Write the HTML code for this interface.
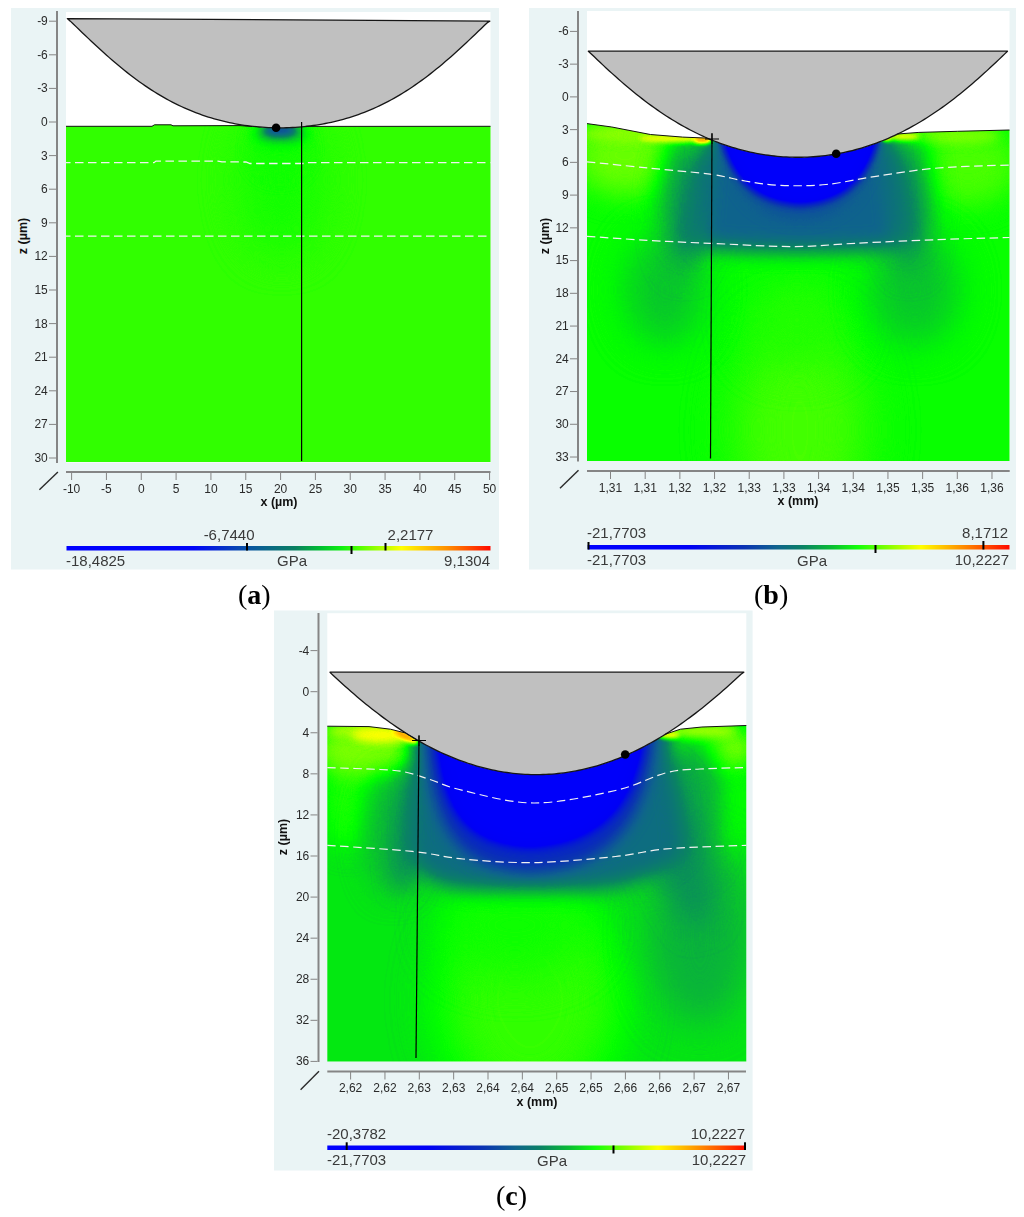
<!DOCTYPE html>
<html><head><meta charset="utf-8"><title>Figure</title>
<style>
html,body{margin:0;padding:0;background:#fff;width:1024px;height:1217px;overflow:hidden;font-family:"Liberation Sans",sans-serif;}
svg{display:block;}
</style></head><body>
<svg width="1024" height="1217" viewBox="0 0 1024 1217">
<defs><filter id="cmap" x="0" y="0" width="100%" height="100%" color-interpolation-filters="sRGB"><feComponentTransfer><feFuncR type="table" tableValues="0 0 0 0 0 0 0 0 0 0 0 0 0 0 0 0 0 0 0 0 0 0 0 0 0 0 0 0 0 0 0 0 0.002 0.004 0.007 0.009 0.012 0.014 0.017 0.019 0.022 0.024 0.027 0.029 0.032 0.034 0.036 0.039 0.041 0.043 0.044 0.046 0.048 0.05 0.052 0.054 0.055 0.057 0.058 0.056 0.054 0.051 0.049 0.046 0.044 0.041 0.039 0.039 0.039 0.039 0.039 0.039 0.039 0.039 0.038 0.033 0.027 0.021 0.015 0.009 0.004 0.017 0.063 0.109 0.155 0.201 0.247 0.293 0.34 0.386 0.432 0.478 0.527 0.579 0.631 0.683 0.734 0.786 0.838 0.89 0.942 0.994 1 1 1 1 1 1 1 1 1 1 1 1 1 1 1 1 1 1 1 1 1 1 1 1 1 1 1"/><feFuncG type="table" tableValues="0 0 0 0 0 0 0 0 0 0 0 0 0 0 0 0 0 0 0 0 0 0 0 0 0 0 0 0 0 0 0 0 0.009 0.022 0.034 0.047 0.059 0.071 0.084 0.096 0.108 0.121 0.133 0.145 0.158 0.17 0.182 0.195 0.212 0.231 0.249 0.267 0.285 0.304 0.322 0.34 0.358 0.377 0.394 0.409 0.424 0.439 0.454 0.468 0.483 0.498 0.516 0.545 0.574 0.603 0.633 0.662 0.691 0.72 0.751 0.788 0.826 0.863 0.901 0.938 0.976 1 1 1 1 1 1 1 1 1 1 1 1 1 1 1 1 1 1 1 1 1 0.967 0.93 0.893 0.856 0.819 0.782 0.745 0.708 0.671 0.634 0.597 0.56 0.523 0.487 0.452 0.418 0.384 0.349 0.315 0.28 0.246 0.211 0.177 0.143 0.108 0.074 0.039"/><feFuncB type="table" tableValues="1 0.999 0.997 0.996 0.995 0.994 0.992 0.991 0.99 0.989 0.987 0.986 0.985 0.984 0.982 0.981 0.98 0.979 0.977 0.976 0.975 0.974 0.972 0.971 0.97 0.969 0.967 0.966 0.965 0.964 0.962 0.961 0.948 0.932 0.916 0.9 0.884 0.868 0.852 0.836 0.82 0.804 0.788 0.772 0.756 0.74 0.724 0.708 0.693 0.678 0.664 0.649 0.634 0.62 0.605 0.591 0.576 0.562 0.546 0.526 0.507 0.487 0.467 0.447 0.428 0.408 0.387 0.363 0.338 0.314 0.29 0.266 0.241 0.217 0.192 0.163 0.134 0.105 0.076 0.047 0.018 0 0 0 0 0 0 0 0 0 0 0 0 0 0 0 0 0 0 0 0 0 0 0 0 0 0 0 0 0 0 0 0 0 0 0 0 0 0 0 0 0 0 0 0 0 0 0 0"/></feComponentTransfer></filter>
<clipPath id="clipA"><path d="M66,462.5 L66,126.3 L152,126.3 L154.5,124.8 L171,124.8 L173,125.8 L240,125.6 L252,126.5 L253.3,126.42 L256.3,126.72 L259.3,126.99 L262.3,127.22 L265.3,127.41 L268.3,127.57 L271.3,127.69 L274.3,127.77 L277.3,127.81 L280.3,127.82 L283.3,127.8 L286.3,127.73 L289.3,127.63 L292.3,127.5 L295.3,127.33 L298.3,127.12 L301.3,126.87 L304.3,126.58 L306,126.4 L490.5,126.3 L490.5,462.5 Z"/></clipPath>
<filter id="g18" x="-80%" y="-80%" width="260%" height="260%" color-interpolation-filters="sRGB"><feGaussianBlur stdDeviation="18"/></filter>
<filter id="g10" x="-80%" y="-80%" width="260%" height="260%" color-interpolation-filters="sRGB"><feGaussianBlur stdDeviation="10"/></filter>
<filter id="g6" x="-80%" y="-80%" width="260%" height="260%" color-interpolation-filters="sRGB"><feGaussianBlur stdDeviation="6"/></filter>
<filter id="g3_5" x="-80%" y="-80%" width="260%" height="260%" color-interpolation-filters="sRGB"><feGaussianBlur stdDeviation="3.5"/></filter>
<clipPath id="clipB"><path d="M587,461 L587,123.6 L611.8,127 L650.4,134.5 L682.7,137.1 L707,138.1 L708.3,138.54 L711.3,139.8 L714.3,141.01 L717.3,142.18 L720.3,143.3 L723.3,144.38 L726.3,145.41 L729.3,146.4 L732.3,147.34 L735.3,148.24 L738.3,149.09 L741.3,149.9 L744.3,150.67 L747.3,151.39 L750.3,152.07 L753.3,152.71 L756.3,153.31 L759.3,153.86 L762.3,154.37 L765.3,154.84 L768.3,155.26 L771.3,155.65 L774.3,155.99 L777.3,156.3 L780.3,156.56 L783.3,156.78 L786.3,156.96 L789.3,157.1 L792.3,157.19 L795.3,157.25 L798.3,157.27 L801.3,157.24 L804.3,157.18 L807.3,157.07 L810.3,156.92 L813.3,156.74 L816.3,156.51 L819.3,156.24 L822.3,155.93 L825.3,155.58 L828.3,155.18 L831.3,154.75 L834.3,154.27 L837.3,153.75 L840.3,153.19 L843.3,152.59 L846.3,151.94 L849.3,151.25 L852.3,150.52 L855.3,149.75 L858.3,148.93 L861.3,148.06 L864.3,147.16 L867.3,146.21 L870.3,145.21 L873.3,144.17 L876.3,143.08 L879.3,141.95 L882.3,140.77 L885.3,139.55 L888.3,138.28 L891.3,136.97 L894.3,135.6 L897.3,134.19 L897.4,134 L918.9,132.4 L957.6,131.3 L1009.5,130 L1009.5,461 Z"/></clipPath>
<filter id="g24" x="-80%" y="-80%" width="260%" height="260%" color-interpolation-filters="sRGB"><feGaussianBlur stdDeviation="24"/></filter>
<filter id="g20" x="-80%" y="-80%" width="260%" height="260%" color-interpolation-filters="sRGB"><feGaussianBlur stdDeviation="20"/></filter>
<filter id="g14" x="-80%" y="-80%" width="260%" height="260%" color-interpolation-filters="sRGB"><feGaussianBlur stdDeviation="14"/></filter>
<filter id="g5" x="-80%" y="-80%" width="260%" height="260%" color-interpolation-filters="sRGB"><feGaussianBlur stdDeviation="5"/></filter>
<filter id="g12" x="-80%" y="-80%" width="260%" height="260%" color-interpolation-filters="sRGB"><feGaussianBlur stdDeviation="12"/></filter>
<filter id="g8" x="-80%" y="-80%" width="260%" height="260%" color-interpolation-filters="sRGB"><feGaussianBlur stdDeviation="8"/></filter>
<filter id="g2" x="-80%" y="-80%" width="260%" height="260%" color-interpolation-filters="sRGB"><feGaussianBlur stdDeviation="2"/></filter>
<filter id="g2_5" x="-80%" y="-80%" width="260%" height="260%" color-interpolation-filters="sRGB"><feGaussianBlur stdDeviation="2.5"/></filter>
<clipPath id="clipC"><path d="M327.3,1061.6 L327.3,726.2 L369,726.6 L390.4,729.2 L405.5,733 L416.5,739.7 L417,739.9 L420,741.63 L423,743.31 L426,744.95 L429,746.54 L432,748.09 L435,749.6 L438,751.06 L441,752.48 L444,753.85 L447,755.18 L450,756.47 L453,757.71 L456,758.9 L459,760.06 L462,761.16 L465,762.23 L468,763.25 L471,764.23 L474,765.16 L477,766.05 L480,766.89 L483,767.69 L486,768.45 L489,769.16 L492,769.83 L495,770.45 L498,771.03 L501,771.57 L504,772.06 L507,772.51 L510,772.92 L513,773.28 L516,773.6 L519,773.87 L522,774.11 L525,774.29 L528,774.44 L531,774.54 L534,774.6 L537,774.61 L540,774.58 L543,774.51 L546,774.4 L549,774.24 L552,774.04 L555,773.79 L558,773.5 L561,773.17 L564,772.79 L567,772.37 L570,771.91 L573,771.4 L576,770.85 L579,770.25 L582,769.61 L585,768.93 L588,768.2 L591,767.43 L594,766.62 L597,765.76 L600,764.86 L603,763.91 L606,762.92 L609,761.89 L612,760.81 L615,759.69 L618,758.52 L621,757.31 L624,756.05 L627,754.75 L630,753.41 L633,752.02 L636,750.59 L639,749.11 L642,747.59 L645,746.03 L648,744.42 L651,742.77 L654,741.07 L657,739.33 L660,737.55 L663,735.72 L665.3,734.2 L680.4,729.2 L701.9,727 L746.3,725.5 L746.3,1061.6 Z"/></clipPath>
<filter id="g9" x="-80%" y="-80%" width="260%" height="260%" color-interpolation-filters="sRGB"><feGaussianBlur stdDeviation="9"/></filter>
<filter id="g4" x="-80%" y="-80%" width="260%" height="260%" color-interpolation-filters="sRGB"><feGaussianBlur stdDeviation="4"/></filter>
<linearGradient id="cbA" x1="0" y1="0" x2="1" y2="0"><stop offset="0" stop-color="#0000ff"/><stop offset="0.3" stop-color="#0004f8"/><stop offset="0.42" stop-color="#0850a8"/><stop offset="0.54" stop-color="#0a8060"/><stop offset="0.6" stop-color="#00c030"/><stop offset="0.65" stop-color="#10f010"/><stop offset="0.69" stop-color="#50ff00"/><stop offset="0.79" stop-color="#ffff00"/><stop offset="0.9" stop-color="#ff8c00"/><stop offset="1" stop-color="#ff0a00"/></linearGradient>
<linearGradient id="cbB" x1="0" y1="0" x2="1" y2="0"><stop offset="0" stop-color="#0000ff"/><stop offset="0.24" stop-color="#0000f5"/><stop offset="0.37" stop-color="#0a32b4"/><stop offset="0.45" stop-color="#0f648c"/><stop offset="0.51" stop-color="#0a8264"/><stop offset="0.58" stop-color="#0abe32"/><stop offset="0.64" stop-color="#14ff0a"/><stop offset="0.71" stop-color="#80ff00"/><stop offset="0.79" stop-color="#ffff00"/><stop offset="0.9" stop-color="#ff8000"/><stop offset="1" stop-color="#ff0a00"/></linearGradient>
<linearGradient id="cbC" x1="0" y1="0" x2="1" y2="0"><stop offset="0" stop-color="#0000ff"/><stop offset="0.24" stop-color="#0000f5"/><stop offset="0.37" stop-color="#0a32b4"/><stop offset="0.45" stop-color="#0f648c"/><stop offset="0.51" stop-color="#0a8264"/><stop offset="0.58" stop-color="#0abe32"/><stop offset="0.64" stop-color="#14ff0a"/><stop offset="0.71" stop-color="#80ff00"/><stop offset="0.79" stop-color="#ffff00"/><stop offset="0.9" stop-color="#ff8000"/><stop offset="1" stop-color="#ff0a00"/></linearGradient></defs>
<rect x="11" y="8" width="488" height="561.5" fill="#eaf4f5"/>
<rect x="66" y="12" width="424.5" height="450.5" fill="#ffffff"/>
<rect x="529" y="8" width="487" height="561.5" fill="#eaf4f5"/>
<rect x="587" y="11" width="422.5" height="450" fill="#ffffff"/>
<rect x="274" y="610.5" width="478.6" height="560" fill="#eaf4f5"/>
<rect x="327.3" y="613.2" width="419" height="448.4" fill="#ffffff"/>
<g clip-path="url(#clipA)"><g filter="url(#cmap)">
<rect x="66" y="100" width="425" height="362" fill="#a9a9a9"/>
<ellipse cx="282" cy="180" rx="42" ry="75" fill="#a4a4a4" filter="url(#g18)"/>
<ellipse cx="280" cy="150" rx="22" ry="22" fill="#a3a3a3" filter="url(#g10)"/>
<ellipse cx="281" cy="133" rx="26" ry="9" fill="#8f8f8f" filter="url(#g6)"/>
<ellipse cx="280" cy="130.5" rx="16" ry="5" fill="#666666" filter="url(#g3_5)"/>
</g></g>
<path d="M66,162.7 L154,162.7 L156,161.1 L218,161.1 L222,161.9 L246,162 L250,163.5 L305,163.5 L308,162.7 L490.5,162.7" fill="none" stroke="#f2f2f2" stroke-width="1.3" stroke-dasharray="8.5 4.5" stroke-dashoffset="4"/>
<path d="M66,236.2 L490.5,236.2" fill="none" stroke="#f2f2f2" stroke-width="1.3" stroke-dasharray="8.5 4.5" stroke-dashoffset="4"/>
<path d="M67.3,18.6 L67.3,18.6 L70.3,21.14 L73.3,24.01 L76.3,26.9 L79.3,29.78 L82.3,32.66 L85.3,35.52 L88.3,38.38 L91.3,41.21 L94.3,44.02 L97.3,46.8 L100.3,49.56 L103.3,52.28 L106.3,54.97 L109.3,57.62 L112.3,60.24 L115.3,62.81 L118.3,65.33 L121.3,67.81 L124.3,70.25 L127.3,72.63 L130.3,74.97 L133.3,77.25 L136.3,79.48 L139.3,81.66 L142.3,83.79 L145.3,85.86 L148.3,87.88 L151.3,89.85 L154.3,91.76 L157.3,93.61 L160.3,95.41 L163.3,97.16 L166.3,98.85 L169.3,100.49 L172.3,102.07 L175.3,103.6 L178.3,105.07 L181.3,106.5 L184.3,107.87 L187.3,109.19 L190.3,110.46 L193.3,111.67 L196.3,112.84 L199.3,113.96 L202.3,115.03 L205.3,116.05 L208.3,117.02 L211.3,117.95 L214.3,118.83 L217.3,119.67 L220.3,120.46 L223.3,121.21 L226.3,121.92 L229.3,122.58 L232.3,123.2 L235.3,123.78 L238.3,124.32 L241.3,124.82 L244.3,125.28 L247.3,125.7 L250.3,126.08 L253.3,126.42 L256.3,126.72 L259.3,126.99 L262.3,127.22 L265.3,127.41 L268.3,127.57 L271.3,127.69 L274.3,127.77 L277.3,127.81 L280.3,127.82 L283.3,127.8 L286.3,127.73 L289.3,127.63 L292.3,127.5 L295.3,127.33 L298.3,127.12 L301.3,126.87 L304.3,126.58 L307.3,126.26 L310.3,125.9 L313.3,125.5 L316.3,125.07 L319.3,124.59 L322.3,124.07 L325.3,123.51 L328.3,122.92 L331.3,122.27 L334.3,121.59 L337.3,120.87 L340.3,120.1 L343.3,119.28 L346.3,118.43 L349.3,117.52 L352.3,116.57 L355.3,115.58 L358.3,114.53 L361.3,113.44 L364.3,112.3 L367.3,111.11 L370.3,109.87 L373.3,108.58 L376.3,107.23 L379.3,105.84 L382.3,104.39 L385.3,102.89 L388.3,101.33 L391.3,99.72 L394.3,98.06 L397.3,96.35 L400.3,94.57 L403.3,92.75 L406.3,90.87 L409.3,88.93 L412.3,86.94 L415.3,84.9 L418.3,82.8 L421.3,80.65 L424.3,78.44 L427.3,76.19 L430.3,73.88 L433.3,71.52 L436.3,69.11 L439.3,66.66 L442.3,64.15 L445.3,61.61 L448.3,59.02 L451.3,56.39 L454.3,53.72 L457.3,51.01 L460.3,48.27 L463.3,45.5 L466.3,42.71 L469.3,39.88 L472.3,37.04 L475.3,34.18 L478.3,31.31 L481.3,28.43 L484.3,25.55 L487.3,22.66 L489.8,21.1 L489.8,21.1 Z" fill="#c0c0c0" stroke="#161616" stroke-width="1.3" stroke-linejoin="round"/>
<path d="M66,126.3 L152,126.3 L154.5,124.8 L171,124.8 L173,125.8 L240,125.6 L252,126.5" fill="none" stroke="#111" stroke-width="1"/>
<path d="M306,126.4 L490.5,126.3" fill="none" stroke="#111" stroke-width="1"/>
<line x1="301.6" y1="122" x2="301.6" y2="461" stroke="#000" stroke-width="1.2"/>
<circle cx="276.1" cy="127.8" r="4.3" fill="#000"/>
<g clip-path="url(#clipB)"><g filter="url(#cmap)">
<rect x="587" y="110" width="423" height="352" fill="#a2a2a2"/>
<ellipse cx="800" cy="430" rx="65" ry="110" fill="#acacac" filter="url(#g24)"/>
<ellipse cx="797" cy="320" rx="50" ry="45" fill="#a6a6a6" filter="url(#g20)"/>
<ellipse cx="625" cy="155" rx="50" ry="40" fill="#b2b2b2" filter="url(#g14)"/>
<ellipse cx="968" cy="165" rx="50" ry="40" fill="#adadad" filter="url(#g14)"/>
<ellipse cx="650" cy="134" rx="70" ry="8" fill="#b8b8b8" filter="url(#g5)"/>
<ellipse cx="945" cy="136" rx="55" ry="8" fill="#b5b5b5" filter="url(#g5)"/>
<ellipse cx="665" cy="290" rx="40" ry="55" fill="#959595" filter="url(#g18)"/>
<ellipse cx="915" cy="290" rx="45" ry="55" fill="#959595" filter="url(#g18)"/>
<ellipse cx="684" cy="205" rx="24" ry="70" fill="#8e8e8e" filter="url(#g12)"/>
<ellipse cx="910" cy="205" rx="22" ry="70" fill="#8e8e8e" filter="url(#g12)"/>
<ellipse cx="697" cy="200" rx="15" ry="55" transform="rotate(12 697 200)" fill="#808080" filter="url(#g10)"/>
<ellipse cx="898" cy="195" rx="16" ry="55" transform="rotate(-12 898 195)" fill="#808080" filter="url(#g10)"/>
<path d="M712,110 L885,110 L899,245 C870,252 730,252 700,245 Z" fill="#737373" filter="url(#g10)"/>
<path d="M722,110 L877,110 C868,195 838,215 800,217 C762,215 732,195 722,110 Z" fill="#696969" filter="url(#g8)"/>
<path d="M718,110 L881,110 C874,186 836,201 800,203 C764,201 726,186 718,110 Z" fill="#1f1f1f" filter="url(#g5)"/>
<ellipse cx="675" cy="138.5" rx="36" ry="3.8" fill="#c7c7c7" filter="url(#g2)"/>
<ellipse cx="703" cy="140" rx="9" ry="3.5" fill="#dedede" filter="url(#g2)"/>
<ellipse cx="902" cy="136.5" rx="18" ry="3.5" fill="#c9c9c9" filter="url(#g2_5)"/>
<ellipse cx="886" cy="138.5" rx="5" ry="2.5" fill="#dbdbdb" filter="url(#g2)"/>
</g></g>
<path d="M587,161.8 C597.17,162.83 627.5,165.93 648,168 C668.5,170.07 693.83,172.03 710,174.2 C726.17,176.37 733.23,179.13 745,181 C756.77,182.87 767.1,184.82 780.6,185.4 C794.1,185.98 810.1,186.02 826,184.5 C841.9,182.98 857.33,179.05 876,176.3 C894.67,173.55 915.75,169.88 938,168 C960.25,166.12 997.58,165.5 1009.5,165" fill="none" stroke="#f2f2f2" stroke-width="1.2" stroke-dasharray="8.5 4.5"/>
<path d="M587,236.3 C597.17,236.98 627.5,239.23 648,240.4 C668.5,241.57 685.83,242.27 710,243.3 C734.17,244.33 768.83,246.6 793,246.6 C817.17,246.6 830.83,244.47 855,243.3 C879.17,242.13 912.25,240.57 938,239.6 C963.75,238.63 997.58,237.85 1009.5,237.5" fill="none" stroke="#f2f2f2" stroke-width="1.2" stroke-dasharray="8.5 4.5"/>
<path d="M588.3,51.2 L588.3,51.2 L591.3,53.94 L594.3,56.83 L597.3,59.7 L600.3,62.54 L603.3,65.36 L606.3,68.15 L609.3,70.91 L612.3,73.64 L615.3,76.33 L618.3,79 L621.3,81.62 L624.3,84.21 L627.3,86.75 L630.3,89.26 L633.3,91.73 L636.3,94.15 L639.3,96.53 L642.3,98.87 L645.3,101.17 L648.3,103.42 L651.3,105.62 L654.3,107.78 L657.3,109.89 L660.3,111.95 L663.3,113.97 L666.3,115.94 L669.3,117.87 L672.3,119.74 L675.3,121.57 L678.3,123.35 L681.3,125.08 L684.3,126.77 L687.3,128.41 L690.3,129.99 L693.3,131.54 L696.3,133.03 L699.3,134.48 L702.3,135.88 L705.3,137.23 L708.3,138.54 L711.3,139.8 L714.3,141.01 L717.3,142.18 L720.3,143.3 L723.3,144.38 L726.3,145.41 L729.3,146.4 L732.3,147.34 L735.3,148.24 L738.3,149.09 L741.3,149.9 L744.3,150.67 L747.3,151.39 L750.3,152.07 L753.3,152.71 L756.3,153.31 L759.3,153.86 L762.3,154.37 L765.3,154.84 L768.3,155.26 L771.3,155.65 L774.3,155.99 L777.3,156.3 L780.3,156.56 L783.3,156.78 L786.3,156.96 L789.3,157.1 L792.3,157.19 L795.3,157.25 L798.3,157.27 L801.3,157.24 L804.3,157.18 L807.3,157.07 L810.3,156.92 L813.3,156.74 L816.3,156.51 L819.3,156.24 L822.3,155.93 L825.3,155.58 L828.3,155.18 L831.3,154.75 L834.3,154.27 L837.3,153.75 L840.3,153.19 L843.3,152.59 L846.3,151.94 L849.3,151.25 L852.3,150.52 L855.3,149.75 L858.3,148.93 L861.3,148.06 L864.3,147.16 L867.3,146.21 L870.3,145.21 L873.3,144.17 L876.3,143.08 L879.3,141.95 L882.3,140.77 L885.3,139.55 L888.3,138.28 L891.3,136.97 L894.3,135.6 L897.3,134.19 L900.3,132.74 L903.3,131.23 L906.3,129.68 L909.3,128.08 L912.3,126.43 L915.3,124.74 L918.3,123 L921.3,121.21 L924.3,119.37 L927.3,117.49 L930.3,115.55 L933.3,113.57 L936.3,111.54 L939.3,109.47 L942.3,107.35 L945.3,105.18 L948.3,102.97 L951.3,100.71 L954.3,98.41 L957.3,96.06 L960.3,93.67 L963.3,91.24 L966.3,88.76 L969.3,86.25 L972.3,83.69 L975.3,81.1 L978.3,78.47 L981.3,75.8 L984.3,73.1 L987.3,70.36 L990.3,67.59 L993.3,64.8 L996.3,61.97 L999.3,59.12 L1002.3,56.25 L1005.3,53.36 L1007.5,51.22 L1007.5,51.2 Z" fill="#c0c0c0" stroke="#161616" stroke-width="1.3" stroke-linejoin="round"/>
<path d="M587,123.6 L611.8,127 L650.4,134.5 L682.7,137.1 L707,138.1" fill="none" stroke="#111" stroke-width="1"/>
<path d="M897.4,134 L918.9,132.4 L957.6,131.3 L1009.5,130" fill="none" stroke="#111" stroke-width="1"/>
<line x1="712" y1="133" x2="710.5" y2="458.5" stroke="#000" stroke-width="1.2"/>
<path d="M705,139 L719,139 M712,134 L712,144" stroke="#000" stroke-width="1"/>
<circle cx="836.2" cy="153.8" r="4.3" fill="#000"/>
<g clip-path="url(#clipC)"><g filter="url(#cmap)">
<rect x="327" y="715" width="420" height="347" fill="#9c9c9c"/>
<ellipse cx="530" cy="1000" rx="90" ry="110" fill="#a9a9a9" filter="url(#g24)"/>
<ellipse cx="515" cy="925" rx="75" ry="50" fill="#a3a3a3" filter="url(#g20)"/>
<ellipse cx="348" cy="790" rx="22" ry="60" fill="#a6a6a6" filter="url(#g12)"/>
<ellipse cx="730" cy="800" rx="20" ry="60" fill="#a4a4a4" filter="url(#g12)"/>
<ellipse cx="365" cy="750" rx="48" ry="26" fill="#b5b5b5" filter="url(#g10)"/>
<ellipse cx="712" cy="748" rx="42" ry="22" fill="#b5b5b5" filter="url(#g9)"/>
<ellipse cx="700" cy="935" rx="50" ry="90" fill="#909090" filter="url(#g20)"/>
<ellipse cx="393" cy="835" rx="26" ry="60" fill="#919191" filter="url(#g14)"/>
<ellipse cx="692" cy="800" rx="30" ry="70" fill="#8f8f8f" filter="url(#g14)"/>
<ellipse cx="408" cy="830" rx="13" ry="62" transform="rotate(6 408 830)" fill="#878787" filter="url(#g10)"/>
<ellipse cx="680" cy="850" rx="24" ry="80" transform="rotate(-15 680 850)" fill="#878787" filter="url(#g14)"/>
<path d="M416,700 L664,700 L684,850 C650,888 600,890 530,890 C460,890 420,888 410,850 Z" fill="#787878" filter="url(#g10)"/>
<path d="M425,700 L655,700 C655,810 620,868 530,872 C442,868 428,810 425,700 Z" fill="#595959" filter="url(#g8)"/>
<path d="M437,700 L645,700 C643,795 608,842 530,846 C454,842 439,795 437,700 Z" fill="#1f1f1f" filter="url(#g6)"/>
<ellipse cx="360" cy="731" rx="35" ry="6" fill="#bebebe" filter="url(#g4)"/>
<ellipse cx="384" cy="735" rx="32" ry="8" fill="#c9c9c9" filter="url(#g4)"/>
<ellipse cx="406" cy="736.5" rx="14" ry="3.5" transform="rotate(28 406 736.5)" fill="#dedede" filter="url(#g2)"/>
<ellipse cx="700" cy="731" rx="38" ry="6" fill="#bdbdbd" filter="url(#g4)"/>
<ellipse cx="668" cy="735" rx="12" ry="3.5" fill="#c9c9c9" filter="url(#g2)"/>
</g></g>
<path d="M327.3,767.6 C336.08,767.92 367.05,768.77 380,769.5 C392.95,770.23 396.67,770.33 405,772 C413.33,773.67 420.33,776.42 430,779.5 C439.67,782.58 445.67,786.58 463,790.5 C480.33,794.42 508.58,803 534,803 C559.42,803 593.45,795.55 615.5,790.5 C637.55,785.45 652.22,776.28 666.3,772.7 C680.38,769.12 686.67,769.85 700,769 C713.33,768.15 738.58,767.83 746.3,767.6" fill="none" stroke="#f2f2f2" stroke-width="1.2" stroke-dasharray="8.5 4.5"/>
<path d="M327.3,845.3 C341.48,846.32 389.78,849.12 412.4,851.4 C435.02,853.68 442.73,857.13 463,859 C483.27,860.87 508.58,863.02 534,862.6 C559.42,862.18 593.45,858.78 615.5,856.5 C637.55,854.22 644.5,850.77 666.3,848.9 C688.1,847.03 732.97,845.9 746.3,845.3" fill="none" stroke="#f2f2f2" stroke-width="1.2" stroke-dasharray="8.5 4.5"/>
<path d="M330,672.2 L330,672.37 L333,675.19 L336,677.97 L339,680.73 L342,683.46 L345,686.16 L348,688.83 L351,691.47 L354,694.07 L357,696.64 L360,699.17 L363,701.67 L366,704.13 L369,706.56 L372,708.95 L375,711.29 L378,713.61 L381,715.88 L384,718.11 L387,720.3 L390,722.45 L393,724.56 L396,726.62 L399,728.65 L402,730.63 L405,732.57 L408,734.47 L411,736.32 L414,738.14 L417,739.9 L420,741.63 L423,743.31 L426,744.95 L429,746.54 L432,748.09 L435,749.6 L438,751.06 L441,752.48 L444,753.85 L447,755.18 L450,756.47 L453,757.71 L456,758.9 L459,760.06 L462,761.16 L465,762.23 L468,763.25 L471,764.23 L474,765.16 L477,766.05 L480,766.89 L483,767.69 L486,768.45 L489,769.16 L492,769.83 L495,770.45 L498,771.03 L501,771.57 L504,772.06 L507,772.51 L510,772.92 L513,773.28 L516,773.6 L519,773.87 L522,774.11 L525,774.29 L528,774.44 L531,774.54 L534,774.6 L537,774.61 L540,774.58 L543,774.51 L546,774.4 L549,774.24 L552,774.04 L555,773.79 L558,773.5 L561,773.17 L564,772.79 L567,772.37 L570,771.91 L573,771.4 L576,770.85 L579,770.25 L582,769.61 L585,768.93 L588,768.2 L591,767.43 L594,766.62 L597,765.76 L600,764.86 L603,763.91 L606,762.92 L609,761.89 L612,760.81 L615,759.69 L618,758.52 L621,757.31 L624,756.05 L627,754.75 L630,753.41 L633,752.02 L636,750.59 L639,749.11 L642,747.59 L645,746.03 L648,744.42 L651,742.77 L654,741.07 L657,739.33 L660,737.55 L663,735.72 L666,733.86 L669,731.94 L672,729.99 L675,727.99 L678,725.95 L681,723.87 L684,721.75 L687,719.59 L690,717.39 L693,715.14 L696,712.86 L699,710.53 L702,708.17 L705,705.77 L708,703.34 L711,700.86 L714,698.35 L717,695.81 L720,693.23 L723,690.61 L726,687.97 L729,685.29 L732,682.58 L735,679.84 L738,677.07 L741,674.28 L743.8,672.2 L743.8,672.2 Z" fill="#c0c0c0" stroke="#161616" stroke-width="1.3" stroke-linejoin="round"/>
<path d="M327.3,726.2 L369,726.6 L390.4,729.2 L405.5,733 L416.5,739.7" fill="none" stroke="#111" stroke-width="1"/>
<path d="M665.3,734.2 L680.4,729.2 L701.9,727 L746.3,725.5" fill="none" stroke="#111" stroke-width="1"/>
<line x1="419" y1="736" x2="416" y2="1058" stroke="#000" stroke-width="1.2"/>
<path d="M412,740.5 L426,740.5 M419,735 L419,746" stroke="#000" stroke-width="1"/>
<circle cx="625.2" cy="754.5" r="4.3" fill="#000"/>
<rect x="56" y="11" width="2" height="452" fill="#858585"/>
<rect x="49" y="20.7" width="7" height="1" fill="#858585"/>
<text x="47.8" y="25.1" font-size="12" text-anchor="end" fill="#2a2a2a" font-family='"Liberation Sans", sans-serif' >-9</text>
<rect x="49" y="54.3" width="7" height="1" fill="#858585"/>
<text x="47.8" y="58.7" font-size="12" text-anchor="end" fill="#2a2a2a" font-family='"Liberation Sans", sans-serif' >-6</text>
<rect x="49" y="87.9" width="7" height="1" fill="#858585"/>
<text x="47.8" y="92.3" font-size="12" text-anchor="end" fill="#2a2a2a" font-family='"Liberation Sans", sans-serif' >-3</text>
<rect x="49" y="121.5" width="7" height="1" fill="#858585"/>
<text x="47.8" y="125.9" font-size="12" text-anchor="end" fill="#2a2a2a" font-family='"Liberation Sans", sans-serif' >0</text>
<rect x="49" y="155.1" width="7" height="1" fill="#858585"/>
<text x="47.8" y="159.5" font-size="12" text-anchor="end" fill="#2a2a2a" font-family='"Liberation Sans", sans-serif' >3</text>
<rect x="49" y="188.7" width="7" height="1" fill="#858585"/>
<text x="47.8" y="193.1" font-size="12" text-anchor="end" fill="#2a2a2a" font-family='"Liberation Sans", sans-serif' >6</text>
<rect x="49" y="222.3" width="7" height="1" fill="#858585"/>
<text x="47.8" y="226.7" font-size="12" text-anchor="end" fill="#2a2a2a" font-family='"Liberation Sans", sans-serif' >9</text>
<rect x="49" y="255.9" width="7" height="1" fill="#858585"/>
<text x="47.8" y="260.3" font-size="12" text-anchor="end" fill="#2a2a2a" font-family='"Liberation Sans", sans-serif' >12</text>
<rect x="49" y="289.5" width="7" height="1" fill="#858585"/>
<text x="47.8" y="293.9" font-size="12" text-anchor="end" fill="#2a2a2a" font-family='"Liberation Sans", sans-serif' >15</text>
<rect x="49" y="323.1" width="7" height="1" fill="#858585"/>
<text x="47.8" y="327.5" font-size="12" text-anchor="end" fill="#2a2a2a" font-family='"Liberation Sans", sans-serif' >18</text>
<rect x="49" y="356.7" width="7" height="1" fill="#858585"/>
<text x="47.8" y="361.1" font-size="12" text-anchor="end" fill="#2a2a2a" font-family='"Liberation Sans", sans-serif' >21</text>
<rect x="49" y="390.3" width="7" height="1" fill="#858585"/>
<text x="47.8" y="394.7" font-size="12" text-anchor="end" fill="#2a2a2a" font-family='"Liberation Sans", sans-serif' >24</text>
<rect x="49" y="423.9" width="7" height="1" fill="#858585"/>
<text x="47.8" y="428.3" font-size="12" text-anchor="end" fill="#2a2a2a" font-family='"Liberation Sans", sans-serif' >27</text>
<rect x="49" y="457.5" width="7" height="1" fill="#858585"/>
<text x="47.8" y="461.9" font-size="12" text-anchor="end" fill="#2a2a2a" font-family='"Liberation Sans", sans-serif' >30</text>
<rect x="66" y="471" width="424.5" height="2" fill="#858585"/>
<rect x="71.1" y="472" width="1" height="8" fill="#858585"/>
<text x="71.6" y="492.6" font-size="12" text-anchor="middle" fill="#2a2a2a" font-family='"Liberation Sans", sans-serif' >-10</text>
<rect x="105.93" y="472" width="1" height="8" fill="#858585"/>
<text x="106.43" y="492.6" font-size="12" text-anchor="middle" fill="#2a2a2a" font-family='"Liberation Sans", sans-serif' >-5</text>
<rect x="140.76" y="472" width="1" height="8" fill="#858585"/>
<text x="141.26" y="492.6" font-size="12" text-anchor="middle" fill="#2a2a2a" font-family='"Liberation Sans", sans-serif' >0</text>
<rect x="175.59" y="472" width="1" height="8" fill="#858585"/>
<text x="176.09" y="492.6" font-size="12" text-anchor="middle" fill="#2a2a2a" font-family='"Liberation Sans", sans-serif' >5</text>
<rect x="210.42" y="472" width="1" height="8" fill="#858585"/>
<text x="210.92" y="492.6" font-size="12" text-anchor="middle" fill="#2a2a2a" font-family='"Liberation Sans", sans-serif' >10</text>
<rect x="245.25" y="472" width="1" height="8" fill="#858585"/>
<text x="245.75" y="492.6" font-size="12" text-anchor="middle" fill="#2a2a2a" font-family='"Liberation Sans", sans-serif' >15</text>
<rect x="280.08" y="472" width="1" height="8" fill="#858585"/>
<text x="280.58" y="492.6" font-size="12" text-anchor="middle" fill="#2a2a2a" font-family='"Liberation Sans", sans-serif' >20</text>
<rect x="314.91" y="472" width="1" height="8" fill="#858585"/>
<text x="315.41" y="492.6" font-size="12" text-anchor="middle" fill="#2a2a2a" font-family='"Liberation Sans", sans-serif' >25</text>
<rect x="349.74" y="472" width="1" height="8" fill="#858585"/>
<text x="350.24" y="492.6" font-size="12" text-anchor="middle" fill="#2a2a2a" font-family='"Liberation Sans", sans-serif' >30</text>
<rect x="384.57" y="472" width="1" height="8" fill="#858585"/>
<text x="385.07" y="492.6" font-size="12" text-anchor="middle" fill="#2a2a2a" font-family='"Liberation Sans", sans-serif' >35</text>
<rect x="419.4" y="472" width="1" height="8" fill="#858585"/>
<text x="419.9" y="492.6" font-size="12" text-anchor="middle" fill="#2a2a2a" font-family='"Liberation Sans", sans-serif' >40</text>
<rect x="454.23" y="472" width="1" height="8" fill="#858585"/>
<text x="454.73" y="492.6" font-size="12" text-anchor="middle" fill="#2a2a2a" font-family='"Liberation Sans", sans-serif' >45</text>
<rect x="489.06" y="472" width="1" height="8" fill="#858585"/>
<text x="489.56" y="492.6" font-size="12" text-anchor="middle" fill="#2a2a2a" font-family='"Liberation Sans", sans-serif' >50</text>
<line x1="39.4" y1="489.7" x2="57.9" y2="471.9" stroke="#2a2a2a" stroke-width="1.4"/>
<text x="279" y="505.8" font-size="12.5" text-anchor="middle" font-weight="bold" fill="#111" font-family='"Liberation Sans", sans-serif' >x (µm)</text>
<text x="27.4" y="236" font-size="12.5" text-anchor="middle" font-weight="bold" fill="#111" font-family='"Liberation Sans", sans-serif' transform="rotate(-90 27.4 236)">z (µm)</text>
<rect x="66.5" y="546" width="424" height="4.5" fill="url(#cbA)"/>
<rect x="246" y="543" width="2" height="7.5" fill="#000"/>
<rect x="350.5" y="546" width="2" height="8" fill="#000"/>
<rect x="384.5" y="543" width="2" height="7.5" fill="#000"/>
<text x="254.5" y="539.5" font-size="15" text-anchor="end" fill="#3a3a3a" font-family='"Liberation Sans", sans-serif' >-6,7440</text>
<text x="410.5" y="539.5" font-size="15" text-anchor="middle" fill="#3a3a3a" font-family='"Liberation Sans", sans-serif' >2,2177</text>
<text x="66" y="566" font-size="15" text-anchor="start" fill="#3a3a3a" font-family='"Liberation Sans", sans-serif' >-18,4825</text>
<text x="292" y="566" font-size="15" text-anchor="middle" fill="#3a3a3a" font-family='"Liberation Sans", sans-serif' >GPa</text>
<text x="490" y="566" font-size="15" text-anchor="end" fill="#3a3a3a" font-family='"Liberation Sans", sans-serif' >9,1304</text>
<rect x="577" y="11" width="2" height="450.5" fill="#858585"/>
<rect x="570" y="30.9" width="7" height="1" fill="#858585"/>
<text x="568.8" y="35.3" font-size="12" text-anchor="end" fill="#2a2a2a" font-family='"Liberation Sans", sans-serif' >-6</text>
<rect x="570" y="63.64" width="7" height="1" fill="#858585"/>
<text x="568.8" y="68.04" font-size="12" text-anchor="end" fill="#2a2a2a" font-family='"Liberation Sans", sans-serif' >-3</text>
<rect x="570" y="96.38" width="7" height="1" fill="#858585"/>
<text x="568.8" y="100.78" font-size="12" text-anchor="end" fill="#2a2a2a" font-family='"Liberation Sans", sans-serif' >0</text>
<rect x="570" y="129.12" width="7" height="1" fill="#858585"/>
<text x="568.8" y="133.52" font-size="12" text-anchor="end" fill="#2a2a2a" font-family='"Liberation Sans", sans-serif' >3</text>
<rect x="570" y="161.86" width="7" height="1" fill="#858585"/>
<text x="568.8" y="166.26" font-size="12" text-anchor="end" fill="#2a2a2a" font-family='"Liberation Sans", sans-serif' >6</text>
<rect x="570" y="194.6" width="7" height="1" fill="#858585"/>
<text x="568.8" y="199" font-size="12" text-anchor="end" fill="#2a2a2a" font-family='"Liberation Sans", sans-serif' >9</text>
<rect x="570" y="227.34" width="7" height="1" fill="#858585"/>
<text x="568.8" y="231.74" font-size="12" text-anchor="end" fill="#2a2a2a" font-family='"Liberation Sans", sans-serif' >12</text>
<rect x="570" y="260.08" width="7" height="1" fill="#858585"/>
<text x="568.8" y="264.48" font-size="12" text-anchor="end" fill="#2a2a2a" font-family='"Liberation Sans", sans-serif' >15</text>
<rect x="570" y="292.82" width="7" height="1" fill="#858585"/>
<text x="568.8" y="297.22" font-size="12" text-anchor="end" fill="#2a2a2a" font-family='"Liberation Sans", sans-serif' >18</text>
<rect x="570" y="325.56" width="7" height="1" fill="#858585"/>
<text x="568.8" y="329.96" font-size="12" text-anchor="end" fill="#2a2a2a" font-family='"Liberation Sans", sans-serif' >21</text>
<rect x="570" y="358.3" width="7" height="1" fill="#858585"/>
<text x="568.8" y="362.7" font-size="12" text-anchor="end" fill="#2a2a2a" font-family='"Liberation Sans", sans-serif' >24</text>
<rect x="570" y="391.04" width="7" height="1" fill="#858585"/>
<text x="568.8" y="395.44" font-size="12" text-anchor="end" fill="#2a2a2a" font-family='"Liberation Sans", sans-serif' >27</text>
<rect x="570" y="423.78" width="7" height="1" fill="#858585"/>
<text x="568.8" y="428.18" font-size="12" text-anchor="end" fill="#2a2a2a" font-family='"Liberation Sans", sans-serif' >30</text>
<rect x="570" y="456.52" width="7" height="1" fill="#858585"/>
<text x="568.8" y="460.92" font-size="12" text-anchor="end" fill="#2a2a2a" font-family='"Liberation Sans", sans-serif' >33</text>
<rect x="587" y="470" width="422.7" height="2" fill="#858585"/>
<rect x="610" y="471" width="1" height="8" fill="#858585"/>
<text x="610.5" y="491.6" font-size="12" text-anchor="middle" fill="#2a2a2a" font-family='"Liberation Sans", sans-serif' >1,31</text>
<rect x="644.68" y="471" width="1" height="8" fill="#858585"/>
<text x="645.18" y="491.6" font-size="12" text-anchor="middle" fill="#2a2a2a" font-family='"Liberation Sans", sans-serif' >1,31</text>
<rect x="679.36" y="471" width="1" height="8" fill="#858585"/>
<text x="679.86" y="491.6" font-size="12" text-anchor="middle" fill="#2a2a2a" font-family='"Liberation Sans", sans-serif' >1,32</text>
<rect x="714.04" y="471" width="1" height="8" fill="#858585"/>
<text x="714.54" y="491.6" font-size="12" text-anchor="middle" fill="#2a2a2a" font-family='"Liberation Sans", sans-serif' >1,32</text>
<rect x="748.72" y="471" width="1" height="8" fill="#858585"/>
<text x="749.22" y="491.6" font-size="12" text-anchor="middle" fill="#2a2a2a" font-family='"Liberation Sans", sans-serif' >1,33</text>
<rect x="783.4" y="471" width="1" height="8" fill="#858585"/>
<text x="783.9" y="491.6" font-size="12" text-anchor="middle" fill="#2a2a2a" font-family='"Liberation Sans", sans-serif' >1,33</text>
<rect x="818.08" y="471" width="1" height="8" fill="#858585"/>
<text x="818.58" y="491.6" font-size="12" text-anchor="middle" fill="#2a2a2a" font-family='"Liberation Sans", sans-serif' >1,34</text>
<rect x="852.76" y="471" width="1" height="8" fill="#858585"/>
<text x="853.26" y="491.6" font-size="12" text-anchor="middle" fill="#2a2a2a" font-family='"Liberation Sans", sans-serif' >1,34</text>
<rect x="887.44" y="471" width="1" height="8" fill="#858585"/>
<text x="887.94" y="491.6" font-size="12" text-anchor="middle" fill="#2a2a2a" font-family='"Liberation Sans", sans-serif' >1,35</text>
<rect x="922.12" y="471" width="1" height="8" fill="#858585"/>
<text x="922.62" y="491.6" font-size="12" text-anchor="middle" fill="#2a2a2a" font-family='"Liberation Sans", sans-serif' >1,35</text>
<rect x="956.8" y="471" width="1" height="8" fill="#858585"/>
<text x="957.3" y="491.6" font-size="12" text-anchor="middle" fill="#2a2a2a" font-family='"Liberation Sans", sans-serif' >1,36</text>
<rect x="991.48" y="471" width="1" height="8" fill="#858585"/>
<text x="991.98" y="491.6" font-size="12" text-anchor="middle" fill="#2a2a2a" font-family='"Liberation Sans", sans-serif' >1,36</text>
<line x1="560" y1="488.3" x2="578.5" y2="470.2" stroke="#2a2a2a" stroke-width="1.4"/>
<text x="798" y="505" font-size="12.5" text-anchor="middle" font-weight="bold" fill="#111" font-family='"Liberation Sans", sans-serif' >x (mm)</text>
<text x="548.6" y="236" font-size="12.5" text-anchor="middle" font-weight="bold" fill="#111" font-family='"Liberation Sans", sans-serif' transform="rotate(-90 548.6 236)">z (µm)</text>
<rect x="587.7" y="545" width="421.8" height="4.5" fill="url(#cbB)"/>
<rect x="587.5" y="542" width="2" height="7.5" fill="#000"/>
<rect x="874.5" y="545" width="2" height="8" fill="#000"/>
<rect x="982.4" y="541" width="2" height="8.5" fill="#000"/>
<text x="587" y="538.2" font-size="15" text-anchor="start" fill="#3a3a3a" font-family='"Liberation Sans", sans-serif' >-21,7703</text>
<text x="1008" y="538.2" font-size="15" text-anchor="end" fill="#3a3a3a" font-family='"Liberation Sans", sans-serif' >8,1712</text>
<text x="587" y="565" font-size="15" text-anchor="start" fill="#3a3a3a" font-family='"Liberation Sans", sans-serif' >-21,7703</text>
<text x="812" y="566" font-size="15" text-anchor="middle" fill="#3a3a3a" font-family='"Liberation Sans", sans-serif' >GPa</text>
<text x="1009" y="565" font-size="15" text-anchor="end" fill="#3a3a3a" font-family='"Liberation Sans", sans-serif' >10,2227</text>
<rect x="317.5" y="613" width="2" height="449" fill="#858585"/>
<rect x="310.5" y="650.1" width="7" height="1" fill="#858585"/>
<text x="309.3" y="654.5" font-size="12" text-anchor="end" fill="#2a2a2a" font-family='"Liberation Sans", sans-serif' >-4</text>
<rect x="310.5" y="691.18" width="7" height="1" fill="#858585"/>
<text x="309.3" y="695.58" font-size="12" text-anchor="end" fill="#2a2a2a" font-family='"Liberation Sans", sans-serif' >0</text>
<rect x="310.5" y="732.26" width="7" height="1" fill="#858585"/>
<text x="309.3" y="736.66" font-size="12" text-anchor="end" fill="#2a2a2a" font-family='"Liberation Sans", sans-serif' >4</text>
<rect x="310.5" y="773.34" width="7" height="1" fill="#858585"/>
<text x="309.3" y="777.74" font-size="12" text-anchor="end" fill="#2a2a2a" font-family='"Liberation Sans", sans-serif' >8</text>
<rect x="310.5" y="814.42" width="7" height="1" fill="#858585"/>
<text x="309.3" y="818.82" font-size="12" text-anchor="end" fill="#2a2a2a" font-family='"Liberation Sans", sans-serif' >12</text>
<rect x="310.5" y="855.5" width="7" height="1" fill="#858585"/>
<text x="309.3" y="859.9" font-size="12" text-anchor="end" fill="#2a2a2a" font-family='"Liberation Sans", sans-serif' >16</text>
<rect x="310.5" y="896.58" width="7" height="1" fill="#858585"/>
<text x="309.3" y="900.98" font-size="12" text-anchor="end" fill="#2a2a2a" font-family='"Liberation Sans", sans-serif' >20</text>
<rect x="310.5" y="937.66" width="7" height="1" fill="#858585"/>
<text x="309.3" y="942.06" font-size="12" text-anchor="end" fill="#2a2a2a" font-family='"Liberation Sans", sans-serif' >24</text>
<rect x="310.5" y="978.74" width="7" height="1" fill="#858585"/>
<text x="309.3" y="983.14" font-size="12" text-anchor="end" fill="#2a2a2a" font-family='"Liberation Sans", sans-serif' >28</text>
<rect x="310.5" y="1019.82" width="7" height="1" fill="#858585"/>
<text x="309.3" y="1024.22" font-size="12" text-anchor="end" fill="#2a2a2a" font-family='"Liberation Sans", sans-serif' >32</text>
<rect x="310.5" y="1060.9" width="7" height="1" fill="#858585"/>
<text x="309.3" y="1065.3" font-size="12" text-anchor="end" fill="#2a2a2a" font-family='"Liberation Sans", sans-serif' >36</text>
<rect x="327.3" y="1070.5" width="418.7" height="2" fill="#858585"/>
<rect x="350.1" y="1071.5" width="1" height="8" fill="#858585"/>
<text x="350.6" y="1092.1" font-size="12" text-anchor="middle" fill="#2a2a2a" font-family='"Liberation Sans", sans-serif' >2,62</text>
<rect x="384.45" y="1071.5" width="1" height="8" fill="#858585"/>
<text x="384.95" y="1092.1" font-size="12" text-anchor="middle" fill="#2a2a2a" font-family='"Liberation Sans", sans-serif' >2,62</text>
<rect x="418.8" y="1071.5" width="1" height="8" fill="#858585"/>
<text x="419.3" y="1092.1" font-size="12" text-anchor="middle" fill="#2a2a2a" font-family='"Liberation Sans", sans-serif' >2,63</text>
<rect x="453.15" y="1071.5" width="1" height="8" fill="#858585"/>
<text x="453.65" y="1092.1" font-size="12" text-anchor="middle" fill="#2a2a2a" font-family='"Liberation Sans", sans-serif' >2,63</text>
<rect x="487.5" y="1071.5" width="1" height="8" fill="#858585"/>
<text x="488" y="1092.1" font-size="12" text-anchor="middle" fill="#2a2a2a" font-family='"Liberation Sans", sans-serif' >2,64</text>
<rect x="521.85" y="1071.5" width="1" height="8" fill="#858585"/>
<text x="522.35" y="1092.1" font-size="12" text-anchor="middle" fill="#2a2a2a" font-family='"Liberation Sans", sans-serif' >2,64</text>
<rect x="556.2" y="1071.5" width="1" height="8" fill="#858585"/>
<text x="556.7" y="1092.1" font-size="12" text-anchor="middle" fill="#2a2a2a" font-family='"Liberation Sans", sans-serif' >2,65</text>
<rect x="590.55" y="1071.5" width="1" height="8" fill="#858585"/>
<text x="591.05" y="1092.1" font-size="12" text-anchor="middle" fill="#2a2a2a" font-family='"Liberation Sans", sans-serif' >2,65</text>
<rect x="624.9" y="1071.5" width="1" height="8" fill="#858585"/>
<text x="625.4" y="1092.1" font-size="12" text-anchor="middle" fill="#2a2a2a" font-family='"Liberation Sans", sans-serif' >2,66</text>
<rect x="659.25" y="1071.5" width="1" height="8" fill="#858585"/>
<text x="659.75" y="1092.1" font-size="12" text-anchor="middle" fill="#2a2a2a" font-family='"Liberation Sans", sans-serif' >2,66</text>
<rect x="693.6" y="1071.5" width="1" height="8" fill="#858585"/>
<text x="694.1" y="1092.1" font-size="12" text-anchor="middle" fill="#2a2a2a" font-family='"Liberation Sans", sans-serif' >2,67</text>
<rect x="727.95" y="1071.5" width="1" height="8" fill="#858585"/>
<text x="728.45" y="1092.1" font-size="12" text-anchor="middle" fill="#2a2a2a" font-family='"Liberation Sans", sans-serif' >2,67</text>
<line x1="300.6" y1="1089.7" x2="319" y2="1071.25" stroke="#2a2a2a" stroke-width="1.4"/>
<text x="537" y="1105.6" font-size="12.5" text-anchor="middle" font-weight="bold" fill="#111" font-family='"Liberation Sans", sans-serif' >x (mm)</text>
<text x="286.6" y="837" font-size="12.5" text-anchor="middle" font-weight="bold" fill="#111" font-family='"Liberation Sans", sans-serif' transform="rotate(-90 286.6 837)">z (µm)</text>
<rect x="327.3" y="1145.5" width="418.7" height="4.5" fill="url(#cbC)"/>
<rect x="345.7" y="1142.3" width="2" height="7.7" fill="#000"/>
<rect x="612.5" y="1145.5" width="2" height="8" fill="#000"/>
<rect x="744" y="1142.3" width="2" height="7.7" fill="#000"/>
<text x="327" y="1138.5" font-size="15" text-anchor="start" fill="#3a3a3a" font-family='"Liberation Sans", sans-serif' >-20,3782</text>
<text x="745" y="1138.5" font-size="15" text-anchor="end" fill="#3a3a3a" font-family='"Liberation Sans", sans-serif' >10,2227</text>
<text x="327" y="1165" font-size="15" text-anchor="start" fill="#3a3a3a" font-family='"Liberation Sans", sans-serif' >-21,7703</text>
<text x="552" y="1166" font-size="15" text-anchor="middle" fill="#3a3a3a" font-family='"Liberation Sans", sans-serif' >GPa</text>
<text x="746" y="1165" font-size="15" text-anchor="end" fill="#3a3a3a" font-family='"Liberation Sans", sans-serif' >10,2227</text>
<text x="238" y="604" font-size="28" font-family='"Liberation Serif", serif' fill="#000">(<tspan font-weight="bold">a</tspan>)</text>
<text x="754" y="604" font-size="28" font-family='"Liberation Serif", serif' fill="#000">(<tspan font-weight="bold">b</tspan>)</text>
<text x="496" y="1204.6" font-size="28" font-family='"Liberation Serif", serif' fill="#000">(<tspan font-weight="bold">c</tspan>)</text>
</svg>
</body></html>
